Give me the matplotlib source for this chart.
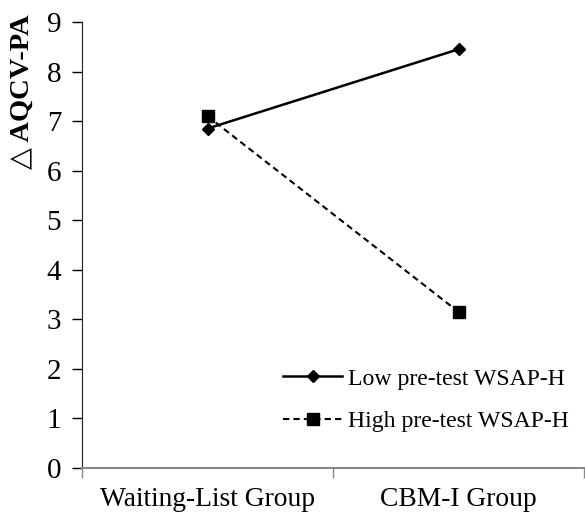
import numpy as np
from matplotlib import pyplot as plt

plt.rcParams['font.family'] = ['Liberation Serif', 'DejaVu Serif']

groups = ['Waiting-List Group', 'CBM-I Group']
low_wsap = [6.85, 8.45]   # Low pre-test WSAP-H
high_wsap = [7.1, 3.15]   # High pre-test WSAP-H
yticks = np.arange(0, 10)

fig = plt.figure(figsize=(5.85, 5.13), dpi=100)
ax = fig.add_axes([82/585, 45/513, 502/585, 446/513])

x = np.arange(len(groups))
ax.plot(x, low_wsap, color='black', lw=1.8, marker='D', ms=5.8,
        label='Low pre-test WSAP-H')
ax.plot(x, high_wsap, color='black', lw=1.5, ls=(0, (3, 2)), marker='s', ms=8,
        label='High pre-test WSAP-H')

ax.set_xlim(-0.5, 1.5)
ax.set_ylim(0, 9)
ax.set_yticks(yticks)
ax.set_xticks(x)
ax.set_xticklabels(groups, fontsize=19.8)
ax.set_xticks([-0.5, 0.5, 1.5], minor=True)
ax.tick_params(axis='x', which='major', length=0, pad=14)
ax.tick_params(axis='x', which='minor', length=7, width=1, color='#888888')
ax.tick_params(axis='y', labelsize=21, length=7, width=1, pad=8)

for s in ['top', 'right']:
    ax.spines[s].set_visible(False)
ax.spines['left'].set_color('#222222')
ax.spines['bottom'].set_color('#888888')
ax.spines['bottom'].set_linewidth(1.5)

fig.text(22/585, 1 - 92/513, '\u25b3 AQCV-PA', rotation=90, fontsize=20.5,
         fontweight='bold', ha='center', va='center')

ax.legend(loc='center left', bbox_to_anchor=(283/585, 1 - 400/513),
          bbox_transform=fig.transFigure, frameon=False, fontsize=17.1,
          handlelength=2.5, handletextpad=0.22, labelspacing=0.88,
          borderpad=0, borderaxespad=0)

fig.savefig('out.png', dpi=100)
